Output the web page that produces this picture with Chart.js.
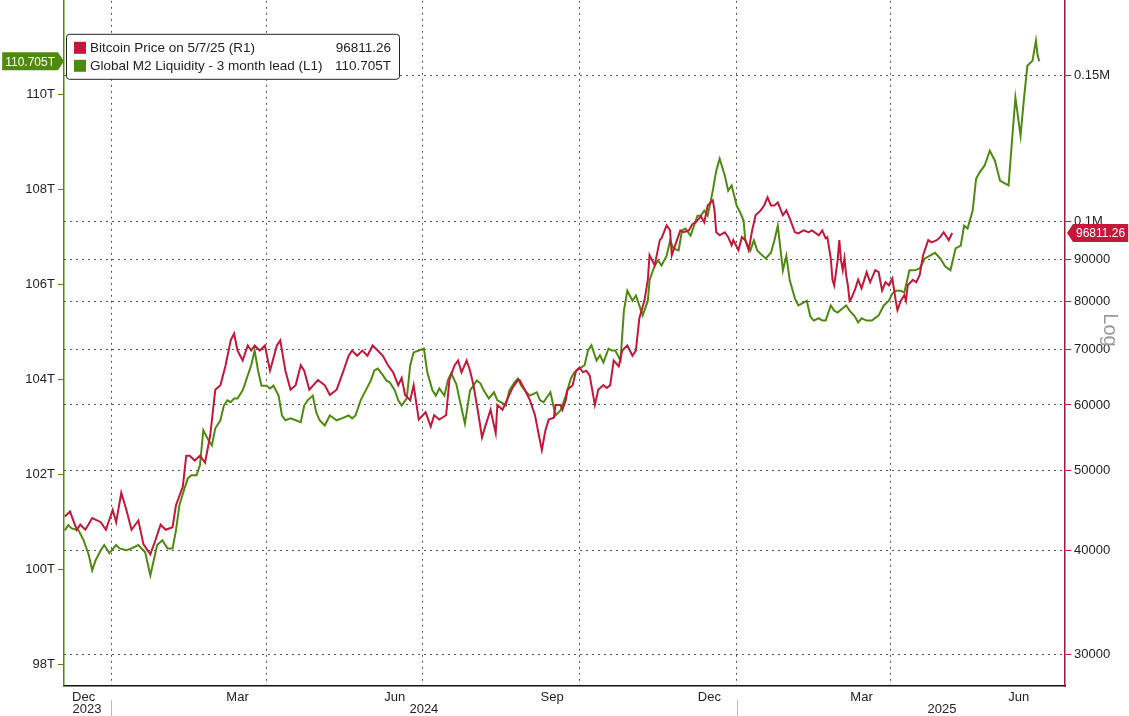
<!DOCTYPE html>
<html>
<head>
<meta charset="utf-8">
<script src="https://cdn.jsdelivr.net/npm/chart.js@4"></script>
<style>
  html, body { margin: 0; padding: 0; background: #fff; overflow: hidden; }
  #wrap { width: 1129px; height: 726px; margin-top: -10px; }
</style>
</head>
<body>
<div id="wrap"><canvas id="grafico"></canvas></div>
<script>
// x values are days counted from 2024-01-01

const btcDays = [-27,-24,-20,-18,-15,-11,-6,-3,1,3,6,9,12,16,19,23,26,29,32,36,38,42,44,46,49,52,55,58,61,64,67,70,72,74,77,80,82,84,87,90,93,97,99,102,105,108,111,113,116,121,125,128,132,136,139,141,144,147,150,153,156,159,162,165,168,170,172,175,177,180,184,187,189,192,196,198,201,203,205,208,210,212,215,217,219,222,225,226,229,232,235,238,239,242,245,248,250,252,254,256,259,260,263,264,266,267,270,272,274,276,278,280,283,285,288,290,292,294,297,299,302,305,307,309,312,314,315,318,321,322,325,327,328,331,333,335,338,340,342,345,347,349,352,353,354,356,359,361,363,364,367,369,371,373,375,377,380,382,384,386,388,390,393,395,397,400,402,405,408,410,414,416,418,419,421,422,423,425,426,427,428,429,430,431,432,433,435,437,439,442,444,447,449,451,453,455,457,459,460,462,464,465,466,469,471,473,475,478,480,483,485,487,490,492];
const btcPrice = [44000,44600,42400,43000,42400,43800,43300,42400,44800,43300,47000,44800,42400,43500,40700,39600,41200,43000,42400,42700,45400,47800,52100,52100,51400,52100,51100,55100,62600,63400,66950,71800,73200,69800,67900,70800,69800,70800,69800,70800,66000,70800,71800,66000,62600,63400,67000,66000,62600,64300,63400,61700,62600,66000,68800,69800,68800,69800,68800,70800,69800,68800,67000,65700,63400,64700,61700,60800,63400,57600,58800,56500,58300,57600,58300,64500,67000,67900,65700,67900,66000,63400,58300,54800,56600,59200,55500,60000,59200,61100,63000,64300,64300,62600,60800,58300,55500,52900,55800,57600,57900,60000,60000,59200,60800,62600,63400,66000,66600,65700,66000,65100,60000,62600,63400,62900,63400,67900,66800,69800,70800,68800,69800,76300,80200,85000,91000,88500,94900,95400,98900,97500,91000,94900,97500,97000,97500,99200,99700,101400,99700,104500,106000,103100,97000,96200,97000,95700,93600,94900,92300,95700,94900,92300,97500,101700,103100,104500,106900,104500,104500,105400,101700,103100,100800,97000,96700,97500,97000,97500,96200,97500,95400,95700,90200,85000,83700,89700,94900,89700,87300,90200,86100,83700,80200,80700,82500,85000,83000,86800,84400,87300,86800,82500,84400,83700,85300,80200,78100,80200,81400,80200,83700,85000,84400,86100,91000,94900,94300,94900,95700,97000,94900,96811.26];

const m2Days = [-27,-25,-23,-19,-16,-13,-11,-9,-6,-4,-1,3,5,9,12,16,20,23,25,27,30,33,36,38,40,43,45,47,50,52,54,57,59,61,64,66,68,70,72,74,77,78,80,82,84,86,88,91,93,95,98,100,102,105,108,111,113,115,118,120,122,125,128,132,135,139,141,143,146,149,152,154,156,159,161,163,166,168,170,173,175,177,180,183,185,188,190,192,195,197,199,202,204,207,210,214,216,218,221,224,226,229,231,233,236,238,240,243,245,249,251,253,257,260,263,266,269,271,274,277,279,281,284,286,288,291,293,295,298,300,302,305,307,309,311,314,315,318,320,322,325,327,329,332,334,336,339,341,343,345,347,349,352,354,356,359,361,363,366,368,370,371,374,376,378,381,383,386,388,390,393,395,397,400,402,404,407,409,411,414,416,418,421,423,425,428,430,432,435,437,439,442,445,449,452,455,457,459,462,464,467,470,473,476,479,482,485,488,491,494,497,499,501,504,506,508,511,514,517,520,522,525,527,529,532,534,536,539,541,542,543];
const m2Liquidity = [100.82,100.93,100.86,100.82,100.61,100.30,99.98,100.19,100.40,100.51,100.34,100.51,100.44,100.40,100.44,100.51,100.36,99.87,100.19,100.51,100.61,100.44,100.44,100.82,101.35,101.71,101.92,101.98,101.98,102.19,102.93,102.72,102.61,102.97,103.14,103.45,103.56,103.52,103.60,103.60,103.77,103.87,104.09,104.30,104.61,104.19,103.87,103.87,103.81,103.87,103.66,103.24,103.14,103.18,103.14,103.10,103.45,103.56,103.66,103.31,103.14,103.03,103.24,103.14,103.18,103.24,103.18,103.24,103.56,103.77,103.98,104.19,104.23,104.09,103.98,103.94,103.77,103.56,103.45,103.60,104.30,104.57,104.61,104.65,104.15,103.77,103.66,103.81,103.66,103.98,104.13,103.90,103.56,103.07,103.77,103.98,103.92,103.77,103.60,103.73,103.56,103.50,103.45,103.77,103.94,104.02,103.87,103.73,103.66,103.73,103.56,103.52,103.73,103.24,103.35,103.66,104.02,104.15,104.23,104.30,104.61,104.72,104.40,104.51,104.36,104.65,104.61,104.61,104.40,105.45,105.87,105.66,105.77,105.56,105.35,105.66,106.09,106.40,106.51,106.40,106.61,106.93,106.76,106.72,107.14,107.18,107.03,107.24,107.45,107.45,107.56,107.45,107.98,108.40,108.65,108.30,107.98,108.09,107.66,107.52,107.35,106.93,106.72,106.93,106.72,106.61,106.55,106.67,106.93,107.24,106.30,106.61,106.09,105.71,105.56,105.60,105.66,105.33,105.24,105.29,105.24,105.24,105.56,105.45,105.41,105.50,105.56,105.45,105.33,105.20,105.29,105.24,105.24,105.35,105.56,105.66,105.81,105.87,105.87,105.83,106.30,106.30,106.34,106.55,106.61,106.67,106.55,106.38,106.30,106.76,106.82,107.24,107.18,107.56,108.23,108.36,108.51,108.82,108.61,108.19,108.15,108.09,109.03,109.94,109.14,109.92,110.61,110.72,111.14,110.82,110.705];

const leftTicks = [98, 100, 102, 104, 106, 108, 110];
const rightTicks = [30000, 40000, 50000, 60000, 70000, 80000, 90000, 100000, 150000];
const quarterStarts = [0, 91, 182, 274, 366, 456];
const monthStarts = [-31, 0, 31, 60, 91, 121, 152, 182, 213, 244, 274, 305, 335, 366, 397, 425, 456, 486, 517, 547];
const monthLabels = [["Dec", -16], ["Mar", 74], ["Jun", 166], ["Sep", 258], ["Dec", 350], ["Mar", 439], ["Jun", 531]];
const yearLabels = [["2023", -14], ["2024", 183], ["2025", 486]];

const RED = "#c4173a";
const GREEN = "#4f8a10";
const FONT = "'Liberation Sans Narrow', 'Liberation Sans', Arial, sans-serif";

const pts = (xs, ys) => xs.map((d, i) => ({ x: d, y: ys[i] }));

const extras = {
  id: "extras",
  afterDraw(chart) {
    const ctx = chart.ctx;
    const x = chart.scales.x, yl = chart.scales.yL, yr = chart.scales.yR;
    const area = chart.chartArea;
    ctx.save();
    // bottom labels
    ctx.fillStyle = "#222";
    ctx.font = "13px " + FONT;
    ctx.textAlign = "center";
    ctx.textBaseline = "top";
    monthLabels.forEach(([t, d]) => ctx.fillText(t, x.getPixelForValue(d), area.bottom + 5));
    yearLabels.forEach(([t, d]) => ctx.fillText(t, Math.max(x.getPixelForValue(d), area.left + 22), area.bottom + 17));
    ctx.strokeStyle = "#bbb";
    ctx.lineWidth = 1;
    [0, 366].forEach(d => {
      const px = Math.round(x.getPixelForValue(d)) + 0.5;
      ctx.beginPath(); ctx.moveTo(px, area.bottom + 14); ctx.lineTo(px, area.bottom + 30); ctx.stroke();
    });
    // last value tags
    const tag = (txt, color, px, py, pointLeft) => {
      ctx.font = "12px " + FONT;
      const w = ctx.measureText(txt).width + 6;
      ctx.fillStyle = color;
      ctx.beginPath();
      if (pointLeft) {
        ctx.moveTo(px, py); ctx.lineTo(px + 6, py - 9); ctx.lineTo(px + 6 + w, py - 9);
        ctx.lineTo(px + 6 + w, py + 9); ctx.lineTo(px + 6, py + 9);
      } else {
        ctx.moveTo(px, py); ctx.lineTo(px - 6, py - 9); ctx.lineTo(px - 6 - w, py - 9);
        ctx.lineTo(px - 6 - w, py + 9); ctx.lineTo(px - 6, py + 9);
      }
      ctx.closePath(); ctx.fill();
      ctx.fillStyle = "#fff";
      ctx.textAlign = "left"; ctx.textBaseline = "middle";
      ctx.fillText(txt, pointLeft ? px + 9 : px - 3 - w, py + 1);
    };
    tag("110.705T", GREEN, area.left, yl.getPixelForValue(110.705), false);
    tag("96811.26", RED, area.right + 2, yr.getPixelForValue(96811.26), true);
    // "Log" label
    ctx.save();
    ctx.translate(1110, 340);
    ctx.rotate(Math.PI / 2);
    ctx.fillStyle = "#999";
    ctx.font = "20px " + FONT;
    ctx.textAlign = "center"; ctx.textBaseline = "middle";
    ctx.fillText("Log", 0, 0);
    ctx.restore();
    // legend box
    const lx = 66, ly = area.top + 33, lw = 333, lh = 45;
    ctx.fillStyle = "#fff";
    ctx.strokeStyle = "#222";
    ctx.lineWidth = 1;
    ctx.beginPath(); ctx.roundRect(lx + 0.5, ly + 0.5, lw, lh, 3); ctx.fill(); ctx.stroke();
    ctx.font = "13.5px " + FONT;
    ctx.textBaseline = "middle";
    const rows = [[RED, "Bitcoin Price on 5/7/25 (R1)", "96811.26"], [GREEN, "Global M2 Liquidity - 3 month lead (L1)", "110.705T"]];
    rows.forEach(([c, t, v], i) => {
      const ry = ly + 14 + i * 18;
      ctx.fillStyle = c; ctx.fillRect(lx + 8, ry - 6, 12, 12);
      ctx.fillStyle = "#222"; ctx.textAlign = "left"; ctx.fillText(t, lx + 24, ry);
      ctx.textAlign = "right"; ctx.fillText(v, lx + lw - 8, ry);
    });
    ctx.restore();
  }
};

const config = {
  type: "line",
  data: {
    datasets: [
      { label: "Bitcoin", data: pts(btcDays, btcPrice), yAxisID: "yR", borderColor: RED, borderWidth: 2, pointRadius: 0, tension: 0 },
      { label: "M2", data: pts(m2Days, m2Liquidity), yAxisID: "yL", borderColor: GREEN, borderWidth: 2, pointRadius: 0, tension: 0 },
    ],
  },
  plugins: [extras],
  options: {
    responsive: true,
    maintainAspectRatio: false,
    animation: false,
    layout: { padding: 0 },
    plugins: { legend: { display: false }, tooltip: { enabled: false } },
    scales: {
      x: {
        type: "linear", min: -27.5, max: 558,
        afterBuildTicks: s => { s.ticks = quarterStarts.map(v => ({ value: v })); },
        afterFit: s => { s.height = 30; },
        ticks: { display: false },
        grid: { color: "#555", drawTicks: false },
        border: { display: true, color: "#111", width: 1.5, dash: [2, 4] },
      },
      xm: {
        type: "linear", position: "bottom", min: -27.5, max: 558,
        afterBuildTicks: s => { s.ticks = monthStarts.filter(v => v > -27).map(v => ({ value: v })); },
        afterFit: s => { s.height = 0; },
        ticks: { display: false },
        grid: { drawOnChartArea: false, tickLength: 5, color: "#333" },
        border: { display: false },
      },
      yL: {
        type: "linear", position: "left", min: 97.54, max: 111.98,
        afterBuildTicks: s => { s.ticks = leftTicks.map(v => ({ value: v })); },
        afterFit: s => { s.width = 64; },
        ticks: { callback: v => v + "T", color: "#222", font: { size: 13, family: FONT }, padding: 3 },
        grid: { drawOnChartArea: false, tickLength: 6, color: GREEN },
        border: { color: GREEN, width: 1.5 },
      },
      yR: {
        type: "logarithmic", position: "right", min: 27450, max: 184700,
        afterBuildTicks: s => { s.ticks = rightTicks.map(v => ({ value: v })); },
        afterFit: s => { s.width = 64; },
        ticks: {
          callback: v => v >= 100000 ? (v / 1e6) + "M" : String(v),
          color: "#222", font: { size: 13, family: FONT }, padding: 3,
        },
        grid: { color: "#555", tickLength: 6, tickColor: RED },
        border: { color: "#9b1b3a", width: 1.5, dash: [2, 4] },
      },
    },
  },
};

const grafico = new Chart(document.getElementById("grafico"), config);
</script>
</body>
</html>
